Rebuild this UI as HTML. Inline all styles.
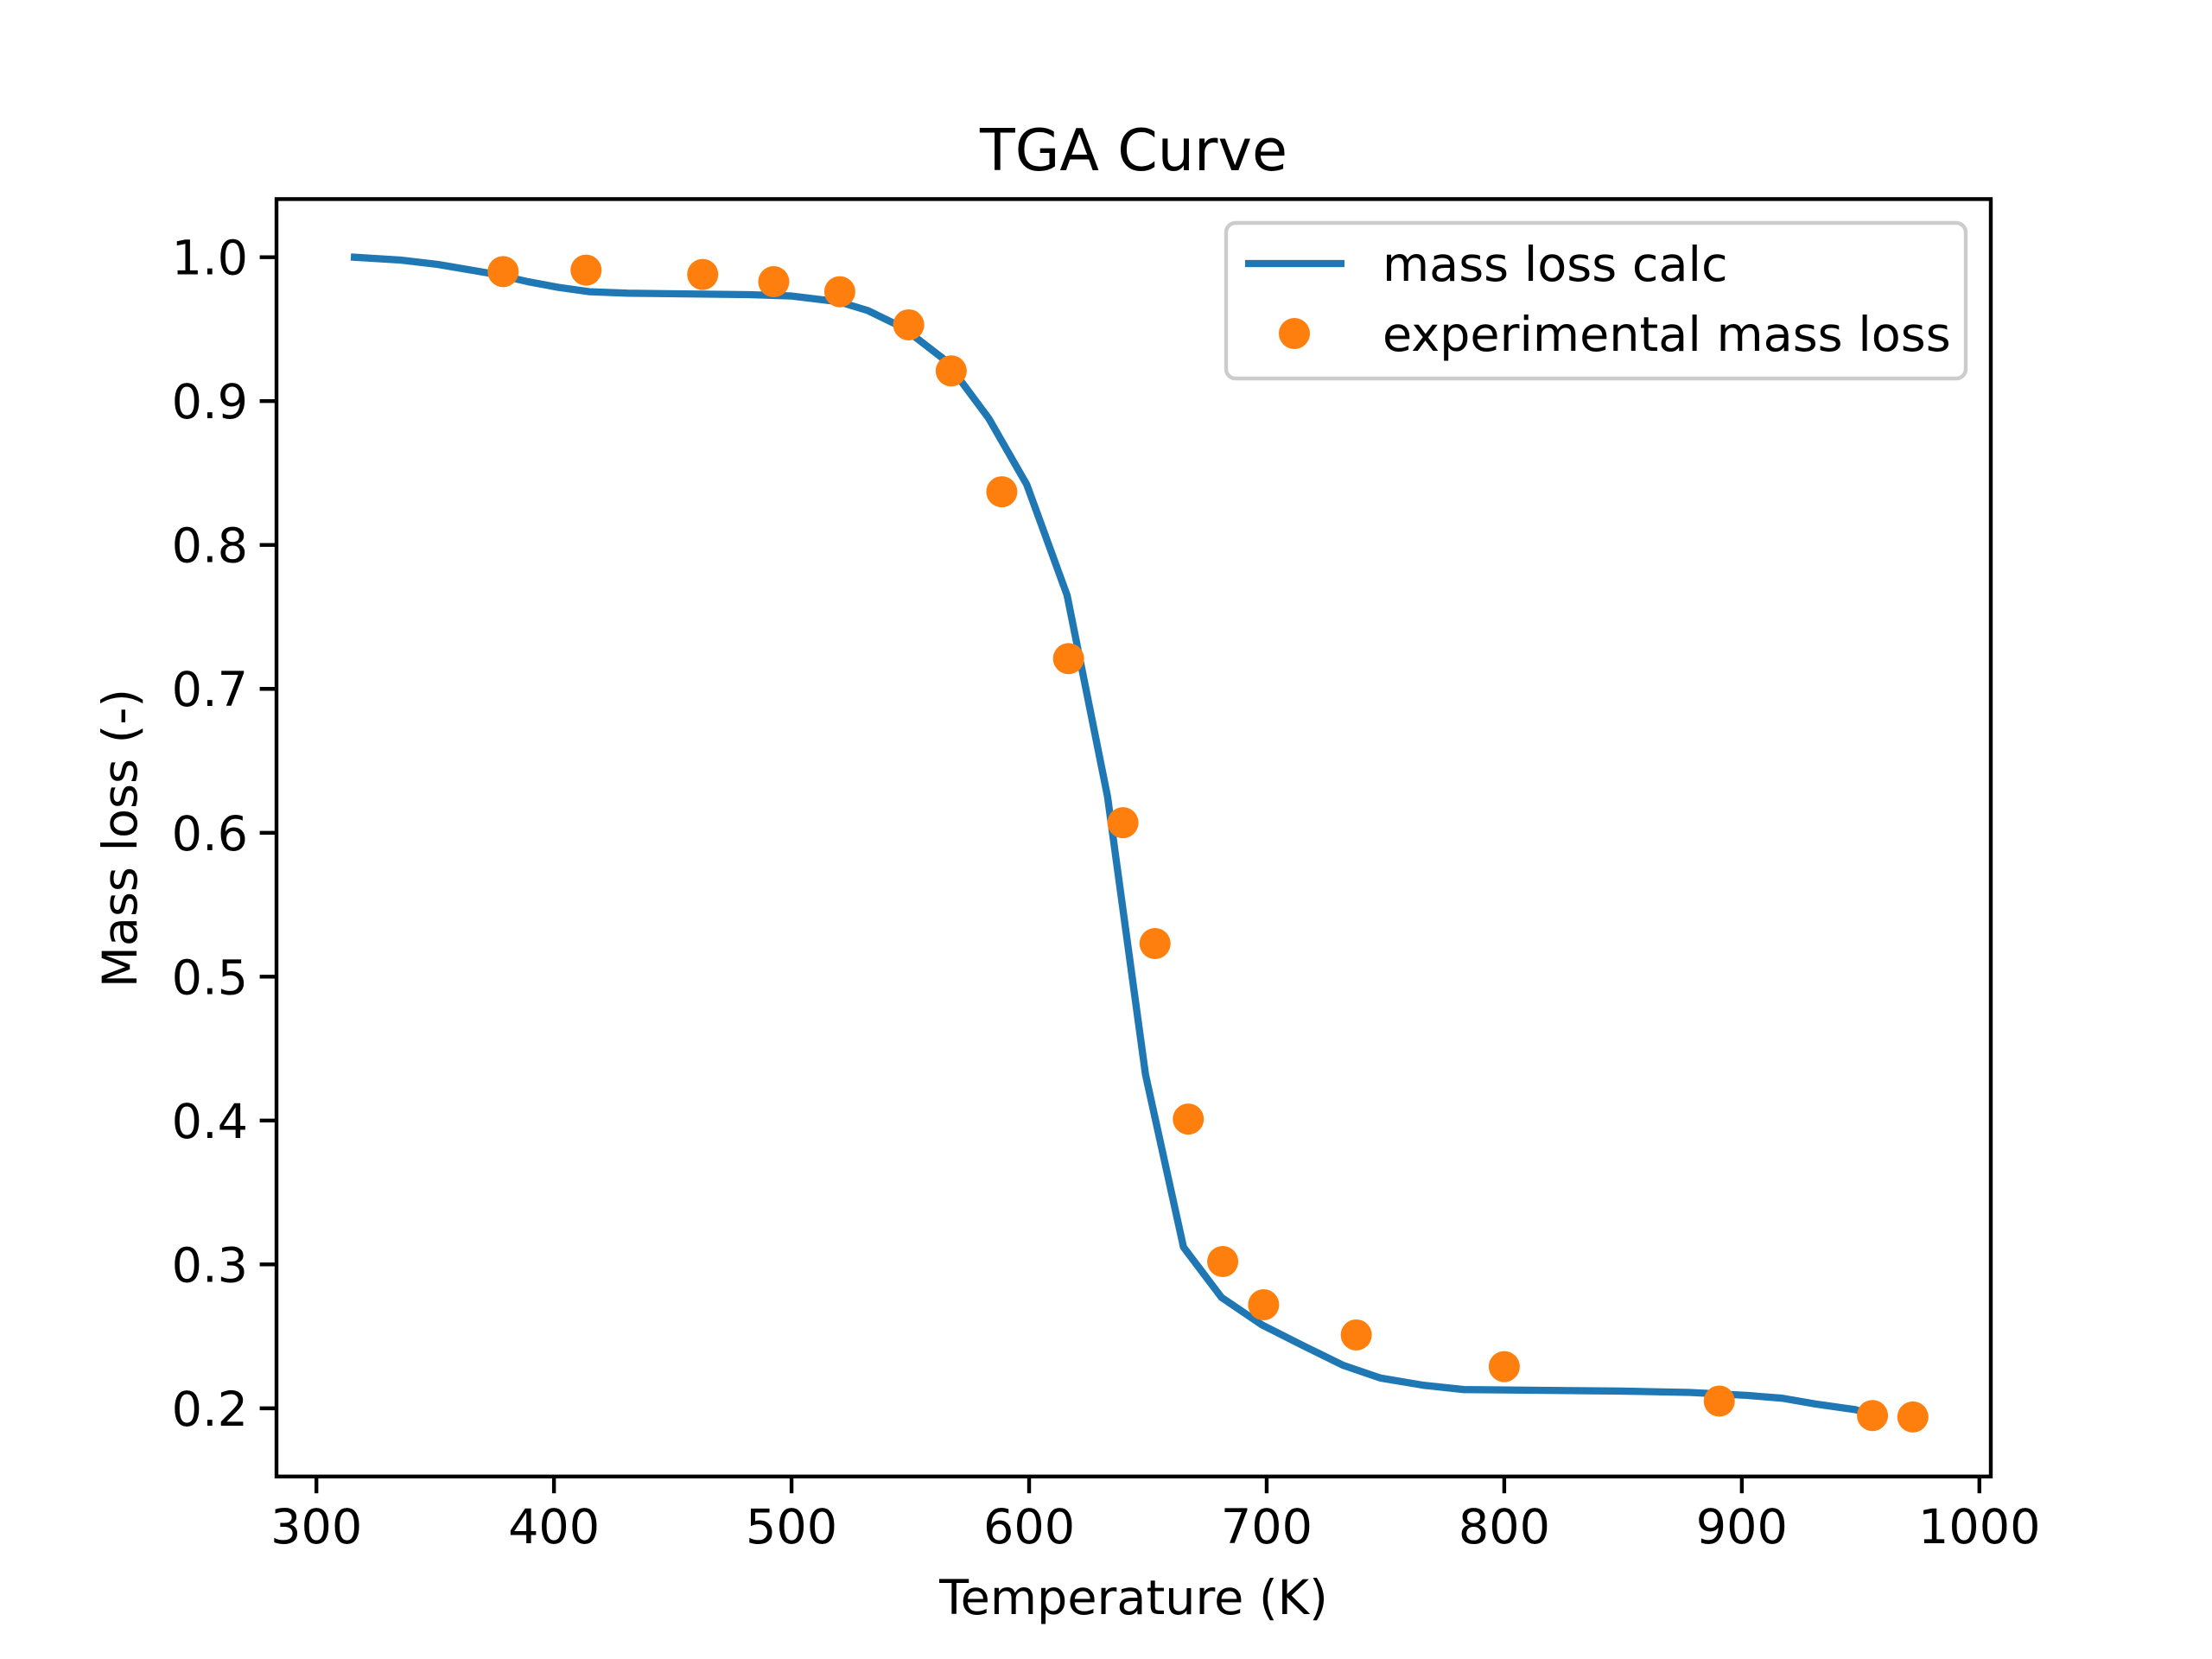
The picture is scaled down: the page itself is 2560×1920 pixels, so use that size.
<!DOCTYPE html>
<html><head><meta charset="utf-8"><style>
html,body{margin:0;padding:0;background:#fff;}
svg{display:block;font-family:"DejaVu Sans","Liberation Sans",sans-serif;}
</style></head><body>
<svg id="chart" width="2560" height="1920" viewBox="0 0 2560 1920" xmlns="http://www.w3.org/2000/svg">
<rect width="2560" height="1920" fill="#fff"/>
<g id="plot"></g>
</svg>
<script>
const calcT = [316,335.5,351,376,389,402,415,431,482,500,520,532,547,565,583,599,616,633,649,665,681,698,716,732,748,766,783,849,878,902,917,931,948,953];
const calcM = [1.0,0.998,0.995,0.988,0.983,0.979,0.976,0.975,0.974,0.973,0.969,0.963,0.951,0.928,0.888,0.842,0.765,0.625,0.432,0.312,0.277,0.258,0.243,0.230,0.221,0.216,0.213,0.212,0.211,0.209,0.207,0.203,0.199,0.196];
const expT = [378.6,413.5,462.6,492.5,520.3,549.3,567.2,588.5,616.6,639.5,653,667,681.5,698.7,737.7,800,890.5,955,972];
const expM = [0.990,0.991,0.988,0.983,0.976,0.953,0.921,0.837,0.721,0.607,0.523,0.401,0.302,0.272,0.251,0.229,0.205,0.195,0.194];
const xTicks = [300,400,500,600,700,800,900,1000];
const yTicks = [0.2,0.3,0.4,0.5,0.6,0.7,0.8,0.9,1.0];
const yTickLabels = ["0.2","0.3","0.4","0.5","0.6","0.7","0.8","0.9","1.0"];

const L=320,R=2304,T=230.4,B=1708.8;
const xmin=283.2,xmax=1004.8,ymin=0.1526,ymax=1.0404;
const sx=v=>L+(v-xmin)/(xmax-xmin)*(R-L);
const sy=v=>B-(v-ymin)/(ymax-ymin)*(B-T);
const NS="http://www.w3.org/2000/svg";
const g=document.getElementById('plot');
function mk(tag,attrs,parent){const e=document.createElementNS(NS,tag);for(const k in attrs)e.setAttribute(k,attrs[k]);(parent||g).appendChild(e);return e;}

let d=calcT.map((t,i)=>(i?'L':'M')+sx(t).toFixed(1)+','+sy(calcM[i]).toFixed(1)).join('');
const line=mk('path',{d:d,fill:'none',stroke:'#1f77b4','stroke-width':8.33,'stroke-linejoin':'round','stroke-linecap':'square'});


expT.forEach((t,i)=>{
  const c=mk('circle',{cx:sx(t),cy:sy(expM[i]),r:18,fill:'#ff7f0e'});
  
  
});
const fr=mk('rect',{x:L,y:T,width:R-L,height:B-T,fill:'none',stroke:'#000','stroke-width':4.4});


xTicks.forEach(v=>{
  const x=sx(v);
  const tk=mk('line',{x1:x,x2:x,y1:B,y2:B+19.4,stroke:'#000','stroke-width':4.4});
  
  
  const tx=mk('text',{x:x,y:B+77,'text-anchor':'middle','font-size':55.6,fill:'#000'});
  tx.textContent=v;
  
  
});
yTicks.forEach((v,i)=>{
  const y=sy(v);
  const tk=mk('line',{x1:L-19.4,x2:L,y1:y,y2:y,stroke:'#000','stroke-width':4.4});
  
  
  const tx=mk('text',{x:L-33,y:y+20,'text-anchor':'end','font-size':55.6,fill:'#000'});
  tx.textContent=yTickLabels[i];
  
  
});
</script>
<svg style="position:absolute;left:0;top:0" width="2560" height="1920" viewBox="0 0 2560 1920" xmlns="http://www.w3.org/2000/svg">
<text x="1312" y="197" text-anchor="middle" font-size="66.7" font-family="DejaVu Sans, Liberation Sans, sans-serif">TGA Curve</text>
<text x="1312" y="1868" text-anchor="middle" font-size="55.6" font-family="DejaVu Sans, Liberation Sans, sans-serif">Temperature (K)</text>
<text transform="translate(158,970) rotate(-90)" text-anchor="middle" font-size="55.6" font-family="DejaVu Sans, Liberation Sans, sans-serif">Mass loss (-)</text>
<g>
<rect x="1419" y="258" width="856" height="180" rx="11" fill="#fff" fill-opacity="0.8" stroke="#cccccc" stroke-width="4.4"/>
<line x1="1441" y1="305" x2="1556" y2="305" stroke="#1f77b4" stroke-width="8.33"/>
<text x="1600" y="325" font-size="55.6" font-family="DejaVu Sans, Liberation Sans, sans-serif">mass loss calc</text>
<circle cx="1498" cy="386" r="18" fill="#ff7f0e"/>
<text x="1600" y="406" font-size="55.6" font-family="DejaVu Sans, Liberation Sans, sans-serif">experimental mass loss</text>
</g>
</svg>
</body></html>
